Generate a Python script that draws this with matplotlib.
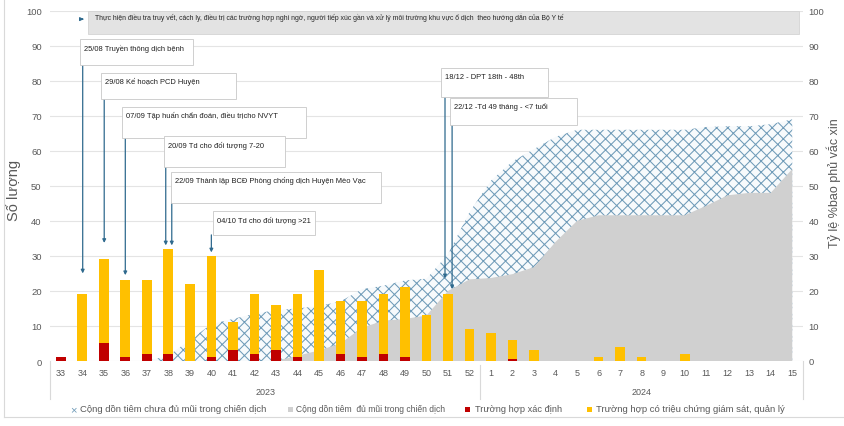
import matplotlib
matplotlib.use("Agg")
import matplotlib.pyplot as plt
from matplotlib import font_manager
from matplotlib.patches import Rectangle
import numpy as np

# ---- data ----
weeks_2023 = [str(w) for w in range(33, 53)]
weeks_2024 = [str(w) for w in range(1, 16)]
week_labels = weeks_2023 + weeks_2024
year_labels = ["2023", "2024"]

# Weekly case counts
confirmed = [1, 0, 5, 1, 2, 2, 0, 1, 3, 2, 3, 1, 0, 2, 1, 2, 1, 0, 0, 0,
             0, 0.7, 0, 0, 0, 0, 0, 0, 0, 0, 0, 0, 0, 0, 0]
monitored = [0, 19, 24, 22, 21, 30, 22, 29, 8, 17, 13, 18, 26, 15, 16, 17, 20, 13, 19, 9,
             8, 5.3, 3, 0, 0, 1, 4, 1, 0, 2, 0, 0, 0, 0, 0]

# Cumulative vaccination coverage (%)
coverage_partial = [0, 0, 0, 0, 0, 1.5, 6, 10.5, 12, 13.5, 14.5, 15, 15.7, 17, 20.5, 21.5, 23, 23.5, 30.5, 42.5,
                    51.5, 57, 60.5, 64, 66, 66, 66, 66, 66, 66, 66.8, 67, 67, 67.6, 69]
coverage_full = [0, 0, 0, 0, 0, 0, 0, 0, 0, 0, 0, 1.5, 3, 5, 9.5, 11.5, 12, 13, 20, 23.3,
                 23.7, 24.8, 26.8, 34, 40, 41.6, 41.6, 41.6, 41.6, 41.6, 44.3, 47.3, 48, 48, 54.8]

# Interventions: (text, box x0, box x1, box y0, box y1, arrow x, arrow end y)
events = [
    ("25/08 Truyền thông dịch bệnh", 0.88, 6.14, 84.5, 91.9, 1.02, 25),
    ("29/08 Kế hoạch PCD Huyện", 1.86, 8.14, 74.8, 82.2, 2.02, 33.7),
    ("07/09 Tập huấn chẩn đoán, điều trịcho NVYT", 2.84, 11.4, 63.7, 72.5, 3.0, 24.5),
    ("20/09 Td cho đối tượng 7-20", 4.79, 10.42, 55.4, 64.2, 4.88, 33),
    ("22/09 Thành lập BCĐ Phòng chống dịch Huyện Mèo Vạc", 5.12, 14.88, 45.1, 54.0, 5.16, 33),
    ("04/10 Td cho đối tượng >21", 7.07, 11.81, 36.0, 42.8, 7.0, 31),
    ("18/12 - DPT 18th - 48th", 17.67, 22.65, 75.4, 83.6, 17.86, 23.6),
    ("22/12 -Td 49 tháng - <7 tuổi", 18.09, 24.0, 67.4, 75.1, 18.19, 20.5),
]
banner_text = ("Thực hiện điều tra truy vết, cách ly, điều trị các trường hợp nghi ngờ, "
               "người tiếp xúc gần và xử lý môi trường khu vực ổ dịch  theo hướng dẫn của Bộ Y tế")

legend_labels = ["Cộng dồn tiêm chưa đủ mũi trong chiến dịch",
                 "Cộng dồn tiêm  đủ mũi trong chiến dịch",
                 "Trường hợp xác định",
                 "Trường hợp có triệu chứng giám sát, quản lý"]

# ---- style ----
names = {f.name for f in font_manager.fontManager.ttflist}
BASE = "Liberation Sans" if "Liberation Sans" in names else "DejaVu Sans"
NARROW = "Liberation Sans Narrow" if "Liberation Sans Narrow" in names else BASE
plt.rcParams["font.family"] = [BASE, "DejaVu Sans"]
plt.rcParams["hatch.linewidth"] = 0.75

GREY_TXT = "#595959"
RED = "#c00000"
YELLOW = "#ffc000"
AREA_GREY = "#d0d0d0"
HATCH_COL = "#6f9bb8"
ARROW_COL = "#2f6a8e"

W, H = 844, 427
fig = plt.figure(figsize=(W / 100, H / 100), dpi=100)
ax = fig.add_axes([50 / W, 1 - 362 / H, (803 - 50) / W, (362 - 11.7) / H])

x = np.arange(len(week_labels))

# Coverage areas
ax.fill_between(x, 0, coverage_partial, facecolor="#f7fafc", edgecolor=HATCH_COL,
                hatch="xxx", linewidth=0, zorder=1)
ax.fill_between(x, 0, coverage_full, facecolor=AREA_GREY, edgecolor="none", linewidth=0, zorder=2)

# Case bars
bw = 0.45
ax.bar(x, confirmed, width=bw, color=RED, zorder=3)
ax.bar(x, monitored, width=bw, bottom=confirmed, color=YELLOW, zorder=3)

# Axes styling
ax.set_xlim(-0.5, len(x) - 0.5)
ax.set_ylim(0, 100)
ax.set_yticks(range(0, 101, 10))
ax.grid(axis="y", color="#e4e4e4", linewidth=0.8, zorder=0)
ax.set_axisbelow(True)
for s in ax.spines.values():
    s.set_visible(False)
ax.set_xticks(x)
ax.set_xticklabels(week_labels)
ax.tick_params(axis="x", length=0, pad=5, labelsize=6.5, labelcolor=GREY_TXT)
ax.tick_params(axis="y", length=0, pad=6, labelsize=6.8, labelcolor=GREY_TXT)

ax2 = ax.twinx()
ax2.set_ylim(0, 100)
ax2.set_yticks(range(0, 101, 10))
ax2.tick_params(axis="y", length=0, pad=4, labelsize=6.8, labelcolor=GREY_TXT)
for s in ax2.spines.values():
    s.set_visible(False)

# Year grouping below the week labels
tr = ax.get_xaxis_transform()
ax.text(9.5, -0.086, year_labels[0], transform=tr, ha="center", va="center",
        fontsize=6.5, color=GREY_TXT)
ax.text(27, -0.086, year_labels[1], transform=tr, ha="center", va="center",
        fontsize=6.5, color=GREY_TXT)
for xs, y0 in [(-0.5, 0.0), (19.5, -0.01), (len(x) - 0.5, 0.0)]:
    ax.plot([xs, xs], [y0, -0.109], transform=tr, color="#d9d9d9", lw=0.8, clip_on=False)

# Banner across the top
ax.add_patch(Rectangle((1.26, 93.3), 34.33 - 1.26, 6.7, facecolor="#e3e3e3",
                       edgecolor="#d4d4d4", lw=0.6, zorder=4))
ax.text(1.58, 98.4, banner_text, fontsize=4.95, family=[NARROW, "DejaVu Sans"],
        color="#262626", va="center", ha="left", zorder=5)
ax.annotate("", xy=(1.2, 97.6), xytext=(0.88, 97.6),
            arrowprops=dict(arrowstyle="-|>", color=ARROW_COL, lw=0.9, mutation_scale=5),
            zorder=5)

# Intervention callouts
for text, bx0, bx1, by0, by1, axx, aend in events:
    ax.add_patch(Rectangle((bx0, by0), bx1 - bx0, by1 - by0, facecolor="white",
                           edgecolor="#c8c8c8", lw=0.6, zorder=6))
    ax.text(bx0 + 0.18, by1 - 2.4, text, fontsize=5.4, family=[NARROW, "DejaVu Sans"],
            color="#1f1f1f", va="center", ha="left", zorder=7)
    ax.annotate("", xy=(axx, aend), xytext=(axx, by0),
                arrowprops=dict(arrowstyle="-|>", color=ARROW_COL, lw=0.9,
                                mutation_scale=5, shrinkA=0, shrinkB=0),
                zorder=5)

# Axis titles
fig.text(14 / W, 1 - 190 / H, "Số lượng", rotation=90, ha="center", va="center",
         fontsize=10.5, color=GREY_TXT)
fig.text(834 / W, 1 - 183 / H, "Tỷ lệ %bao phủ vắc xin", rotation=90, ha="center",
         va="center", fontsize=9, color=GREY_TXT)

# Legend row
ly = 1 - 410 / H
fig.text(73 / W, ly, "×", ha="center", va="center", fontsize=8, color=HATCH_COL)
fig.text(80 / W, ly, legend_labels[0], ha="left", va="center", fontsize=6.8, color=GREY_TXT)
sq = 5
for cx, col in [(290, AREA_GREY), (468, RED), (589, YELLOW)]:
    fig.add_artist(Rectangle(((cx - sq / 2) / W, ly - (sq / 2) / H), sq / W, sq / H,
                             transform=fig.transFigure, facecolor=col, edgecolor="none"))
fig.text(296 / W, ly, legend_labels[1], ha="left", va="center", fontsize=6.15,
         family=[NARROW, "DejaVu Sans"], color=GREY_TXT)
fig.text(475 / W, ly, legend_labels[2], ha="left", va="center", fontsize=6.7, color=GREY_TXT)
fig.text(596 / W, ly, legend_labels[3], ha="left", va="center", fontsize=6.8, color=GREY_TXT)

# Chart frame (left and bottom edges)
fig.add_artist(plt.Line2D([4 / W, 4 / W], [1 - 418 / H, 1.0], transform=fig.transFigure,
                          color="#d9d9d9", lw=0.8))
fig.add_artist(plt.Line2D([4 / W, 1.0], [1 - 418 / H, 1 - 418 / H], transform=fig.transFigure,
                          color="#d9d9d9", lw=0.8))

fig.savefig("out.png", dpi=100)
